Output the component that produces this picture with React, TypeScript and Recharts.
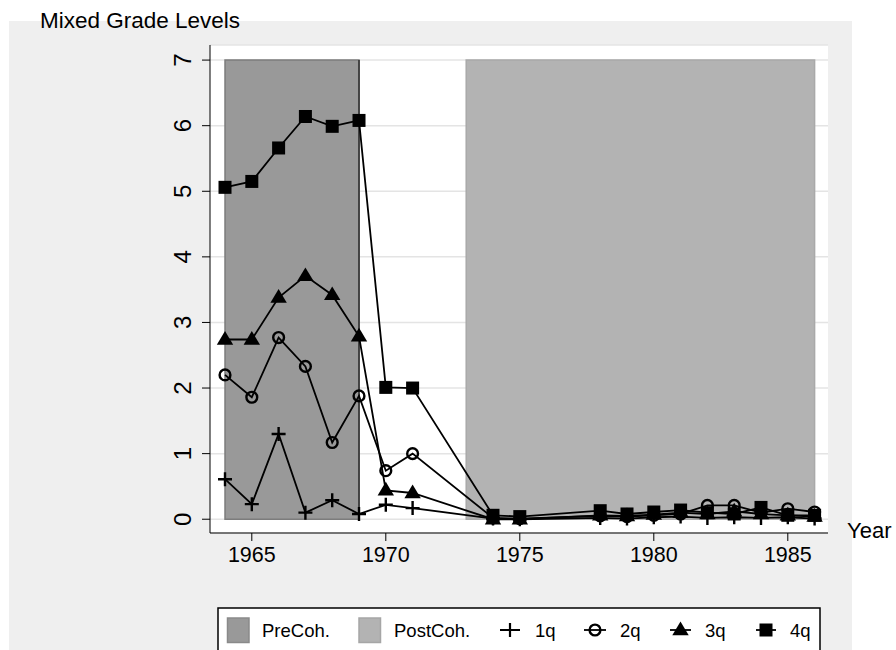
import React from 'react'
import { ComposedChart, Line, XAxis, YAxis, CartesianGrid, ReferenceArea, ReferenceLine } from 'recharts'

const FONT = '"Liberation Sans", Arial, Helvetica, sans-serif'

// years with observations (gaps 1972-73, 1976-77 are simply connected)
const years = [1964, 1965, 1966, 1967, 1968, 1969, 1970, 1971, 1974, 1975, 1978, 1979, 1980, 1981, 1982, 1983, 1984, 1985, 1986]
const q1 = [0.61, 0.23, 1.3, 0.1, 0.29, 0.08, 0.22, 0.17, 0.01, 0.0, 0.02, 0.01, 0.03, 0.04, 0.02, 0.03, 0.02, 0.03, 0.01]
const q2 = [2.2, 1.86, 2.77, 2.33, 1.17, 1.88, 0.74, 1.0, 0.02, 0.01, 0.05, 0.04, 0.06, 0.08, 0.21, 0.21, 0.1, 0.16, 0.11]
const q3 = [2.74, 2.74, 3.38, 3.71, 3.42, 2.79, 0.44, 0.4, 0.0, 0.0, 0.06, 0.05, 0.07, 0.1, 0.08, 0.12, 0.08, 0.06, 0.04]
const q4 = [5.06, 5.15, 5.66, 6.14, 5.99, 6.08, 2.01, 2.0, 0.06, 0.04, 0.13, 0.08, 0.11, 0.14, 0.1, 0.08, 0.18, 0.06, 0.06]

// shaded periods
const preCoh = [1964, 1969]
const postCoh = [1973, 1986]
const shadeTop = 7

const xTicks = [1965, 1970, 1975, 1980, 1985]
const yTicks = [0, 1, 2, 3, 4, 5, 6, 7]

const data = years.map((year, i) => ({ year, q1: q1[i], q2: q2[i], q3: q3[i], q4: q4[i] }))

const PlusDot = (p: any) => {
  const { cx, cy, index } = p
  if (cx == null || cy == null) return <g key={`p${index}`} />
  return (
    <path key={`p${index}`} d={`M${cx - 7},${cy}H${cx + 7}M${cx},${cy - 7}V${cy + 7}`} stroke="#000" strokeWidth={2.4} fill="none" />
  )
}
const CircleDot = (p: any) => {
  const { cx, cy, index } = p
  if (cx == null || cy == null) return <g key={`c${index}`} />
  return <circle key={`c${index}`} cx={cx} cy={cy} r={5.4} stroke="#000" strokeWidth={2.4} fill="none" />
}
const TriDot = (p: any) => {
  const { cx, cy, index } = p
  if (cx == null || cy == null) return <g key={`t${index}`} />
  return <path key={`t${index}`} d={`M${cx},${cy - 8.5}L${cx + 8.2},${cy + 5.2}L${cx - 8.2},${cy + 5.2}Z`} fill="#000" />
}
const SquareDot = (p: any) => {
  const { cx, cy, index } = p
  if (cx == null || cy == null) return <g key={`s${index}`} />
  return <rect key={`s${index}`} x={cx - 6.5} y={cy - 6.5} width={13} height={13} fill="#000" />
}

const YTick = (props: any) => {
  const { x, y, payload } = props
  return (
    <text transform={`translate(${x},${y}) rotate(-90)`} textAnchor="middle" fontSize={24} fill="#000" fontFamily={FONT}>
      {payload.value}
    </text>
  )
}

export default function App() {
  return (
    <div style={{ position: 'absolute', left: 0, top: 0, width: 896, height: 650, overflow: 'hidden', background: '#fff' }}>
      <div style={{ position: 'absolute', left: 9, top: 21, width: 843, height: 629, background: '#efefef' }} />
      <div style={{ position: 'absolute', left: 0, top: 0 }}>
        <ComposedChart width={896} height={650} data={data} margin={{ top: 45, right: 68, bottom: 77, left: 150 }}>
          <CartesianGrid horizontal vertical={false} stroke="#e4e4e4" strokeWidth={1.5} fill="#fff" fillOpacity={1} />
          <XAxis
            dataKey="year"
            type="number"
            domain={[1963.44, 1986.5]}
            ticks={xTicks}
            allowDataOverflow
            height={40}
            tickSize={8}
            tickMargin={6}
            stroke="#000"
            tick={{ fill: '#000', fontSize: 21.5, fontFamily: FONT }}
            interval={0}
          />
          <YAxis
            type="number"
            domain={[-0.21, 7.23]}
            ticks={yTicks}
            allowDataOverflow
            width={60}
            tickSize={8}
            tickMargin={11}
            stroke="#000"
            tick={<YTick />}
            interval={0}
          />
          <ReferenceArea x1={preCoh[0]} x2={preCoh[1]} y1={0} y2={shadeTop} fill="#999999" fillOpacity={1} stroke="#7c7c7c" strokeWidth={1.5} />
          <ReferenceLine segment={[{ x: preCoh[1], y: 0 }, { x: preCoh[1], y: shadeTop }]} stroke="#333" strokeWidth={1.6} />
          <ReferenceArea x1={postCoh[0]} x2={postCoh[1]} y1={0} y2={shadeTop} fill="#b3b3b3" fillOpacity={1} stroke="#a9a9a9" strokeWidth={1.5} />
          <Line dataKey="q1" stroke="#000" strokeWidth={1.8} dot={PlusDot} activeDot={false} isAnimationActive={false} />
          <Line dataKey="q2" stroke="#000" strokeWidth={1.8} dot={CircleDot} activeDot={false} isAnimationActive={false} />
          <Line dataKey="q3" stroke="#000" strokeWidth={1.8} dot={TriDot} activeDot={false} isAnimationActive={false} />
          <Line dataKey="q4" stroke="#000" strokeWidth={1.8} dot={SquareDot} activeDot={false} isAnimationActive={false} />
        </ComposedChart>
      </div>
      <svg width={896} height={650} style={{ position: 'absolute', left: 0, top: 0, pointerEvents: 'none' }} fontFamily={FONT}>
        <text x={40} y={28} fontSize={22.5} fill="#000">Mixed Grade Levels</text>
        <text x={847} y={538} fontSize={22} fill="#000">Year</text>
        <rect x={218} y={608} width={602} height={60} fill="#fff" stroke="#000" strokeWidth={1.5} />
        <rect x={227.5} y={618} width={21.5} height={24.5} fill="#999999" stroke="#8a8a8a" strokeWidth={1.5} />
        <text x={262} y={637} fontSize={18.5} fill="#000">PreCoh.</text>
        <rect x={359} y={618} width={21.5} height={24.5} fill="#b3b3b3" stroke="#a6a6a6" strokeWidth={1.5} />
        <text x={394} y={637} fontSize={18.5} fill="#000">PostCoh.</text>
        <path d="M500,630H520M510,623V637" stroke="#000" strokeWidth={2.2} />
        <text x={535} y={637} fontSize={18.5} fill="#000">1q</text>
        <path d="M584,630H606" stroke="#000" strokeWidth={1.8} />
        <circle cx={595} cy={630} r={5.4} stroke="#000" strokeWidth={2.4} fill="none" />
        <text x={620} y={637} fontSize={18.5} fill="#000">2q</text>
        <path d="M670,630H691" stroke="#000" strokeWidth={1.8} />
        <path d="M680.5,621.5L688.7,635.2L672.3,635.2Z" fill="#000" />
        <text x={705} y={637} fontSize={18.5} fill="#000">3q</text>
        <path d="M756,630H776" stroke="#000" strokeWidth={1.8} />
        <rect x={759.5} y={623.5} width={13} height={13} fill="#000" />
        <text x={790} y={637} fontSize={18.5} fill="#000">4q</text>
      </svg>
    </div>
  )
}
